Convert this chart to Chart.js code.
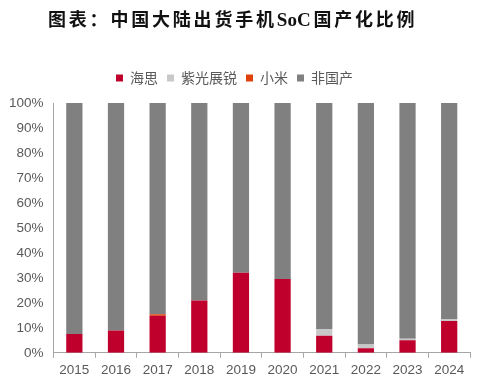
<!DOCTYPE html>
<html>
<head>
<meta charset="utf-8">
<script src="https://cdn.jsdelivr.net/npm/chart.js@4.4.1/dist/chart.umd.min.js"></script>
<style>
  html, body { margin: 0; padding: 0; background: #fff; }
  #wrap { width: 482px; height: 385px; position: relative; }
  #title {
    position: absolute; left: 48px; top: 6px;
    font: bold 18px "Noto Sans CJK SC", serif; letter-spacing: 2.8px;
    color: #111; white-space: nowrap; line-height: 24px;
  }
  #title span { font-family: "Liberation Serif", serif; font-size: 19px; letter-spacing: 0; margin-right: 2.8px; }
  #c { position: absolute; left: 0; top: 0; }
</style>
</head>
<body>
<div id="wrap">
  <canvas id="c" width="482" height="385"></canvas>
  <div id="title">图表：中国大陆出货手机<span>SoC</span>国产化比例</div>
</div>
<script>
// categories and series (percent of mainland shipments)
const years = ['2015', '2016', '2017', '2018', '2019', '2020', '2021', '2022', '2023', '2024'];
const hisilicon = [7.5, 8.9, 14.8, 20.9, 32.0, 29.5, 6.8, 1.8, 5.0, 12.7];
const unisoc = [0, 0, 0, 0, 0, 0, 2.7, 1.5, 0.6, 0.8];
const xiaomi = [0, 0, 0.6, 0, 0, 0, 0, 0, 0, 0];
const nonDomestic = [92.5, 91.1, 84.6, 79.1, 68.0, 70.5, 90.5, 96.7, 94.4, 86.5];
const yTicks = [0, 10, 20, 30, 40, 50, 60, 70, 80, 90, 100];

const axisGrey = '#a6a6a6';
const labelGrey = '#595959';

// leave extra room under the legend
const legendGap = {
  id: 'legendGap',
  beforeInit(chart) {
    const fit = chart.legend.fit;
    chart.legend.fit = function () {
      fit.call(this);
      this.height += 8;
    };
  }
};

new Chart(document.getElementById('c'), {
  type: 'bar',
  data: {
    labels: years,
    datasets: [
      { label: '海思', data: hisilicon, backgroundColor: '#c0002c' },
      { label: '紫光展锐', data: unisoc, backgroundColor: '#c8c8c8' },
      { label: '小米', data: xiaomi, backgroundColor: '#e0400a' },
      { label: '非国产', data: nonDomestic, backgroundColor: '#808080' }
    ]
  },
  plugins: [legendGap],
  options: {
    responsive: false,
    animation: false,
    datasets: { bar: { categoryPercentage: 1, barPercentage: 0.39 } },
    layout: { padding: { left: -1, right: 12, top: 62, bottom: 3 } },
    plugins: {
      title: { display: false },
      legend: {
        position: 'top',
        labels: {
          boxWidth: 7,
          boxHeight: 7,
          padding: 9,
          color: labelGrey,
          font: { family: '"Noto Sans CJK SC", "Liberation Sans", sans-serif', size: 14 }
        }
      },
      tooltip: { enabled: false }
    },
    scales: {
      x: {
        stacked: true,
        grid: { display: true, drawOnChartArea: false, offset: true, color: axisGrey, tickLength: 5 },
        border: { display: true, color: axisGrey, width: 1 },
        ticks: { color: labelGrey, font: { family: '"Liberation Sans", Arial, sans-serif', size: 13.5 }, padding: 4 }
      },
      y: {
        stacked: true,
        min: 0,
        max: 100,
        afterBuildTicks: axis => { axis.ticks = yTicks.map(v => ({ value: v })); },
        grid: { display: false, drawTicks: false },
        border: { display: true, color: axisGrey, width: 1 },
        ticks: {
          color: labelGrey,
          font: { family: '"Liberation Sans", Arial, sans-serif', size: 13.5 },
          padding: 10,
          callback: v => v + '%'
        }
      }
    }
  }
});
</script>
</body>
</html>
